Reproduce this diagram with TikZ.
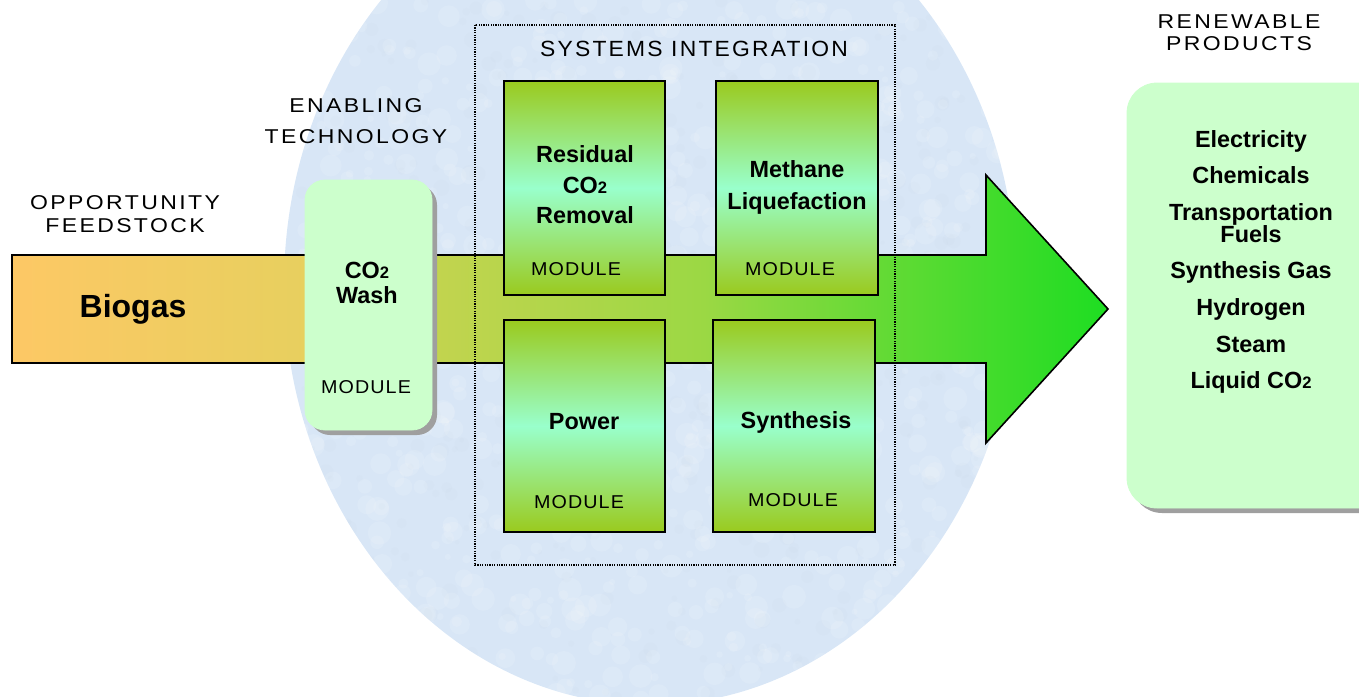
\documentclass[tikz,border=0pt]{standalone}
\usepackage{fontspec}
\setmainfont{Liberation Sans}
\newfontfamily\spacedfont[LetterSpace=12, FakeStretch=1.15]{Liberation Sans}
\newfontfamily\widefont[LetterSpace=10, FakeStretch=1.04]{Liberation Sans}
\newfontfamily\modfont[LetterSpace=6, FakeStretch=1.06]{Liberation Sans}
\usetikzlibrary{shapes,calc}
\definecolor{skyblue}{RGB}{216,230,246}
\definecolor{modgreen}{RGB}{154,202,30}
\definecolor{modmint}{RGB}{153,255,204}
\definecolor{palegreen}{RGB}{204,255,204}
\definecolor{feedorange}{RGB}{253,200,101}
\definecolor{feedgold}{RGB}{230,208,94}
\definecolor{flowolive}{RGB}{214,210,84}
\definecolor{flowgreen}{RGB}{30,221,34}
\newcommand{\cotwo}{CO{\fontsize{8.3}{8}\selectfont 2}}

\begin{document}
\begin{tikzpicture}[x=0.5pt, y=-0.5pt,
    module/.style={draw, line width=1pt, top color=modgreen, bottom color=modgreen, middle color=modmint},
    capslabel/.style={font=\spacedfont\fontsize{10}{11}\selectfont, anchor=base, inner sep=0pt},
    modlabel/.style={font=\modfont\fontsize{9.3}{10}\selectfont, anchor=base, inner sep=0pt},
    boldlabel/.style={font=\bfseries\fontsize{11.7}{11.7}\selectfont, anchor=base, inner sep=0pt, align=center}]
                \clip (0,0) rectangle (1359,696);
                \fill[skyblue] (650,285) ellipse [x radius=366, y radius=420];
                % mottled background
                \begin{scope}
                    \clip (650,285) ellipse [x radius=366, y radius=420];
                    \pgfmathsetseed{7}
                    \foreach \i in {1,...,900}
                        \fill[white, opacity=0.12] (290+rnd*720,rnd*700) circle [radius=3+9*rnd];
                    \foreach \i in {1,...,500}
                        \fill[skyblue!80!gray, opacity=0.08] (290+rnd*720,rnd*700) circle [radius=2+6*rnd];
                \end{scope}
                % flow
                \draw[line width=0.8pt, left color=flowolive, right color=flowgreen, middle color={rgb,255:red,155;green,216;blue,68}]
                    (300,255) -- (986,255) -- (986,175) -- (1108,309) -- (986,443) -- (986,363) -- (300,363) -- cycle;
                \draw[line width=1pt, left color=feedorange, right color=feedgold] (12,255) rectangle (320,363);
                \draw[line width=0.6pt, dash pattern=on 0.6pt off 0.6pt] (475,25) rectangle (895,565);
                % modules
                \path[module] (504,81) rectangle (665,295);
                \path[module] (716,81) rectangle (878,295);
                \path[module] (504,320) rectangle (665,532);
                \path[module] (713,320) rectangle (875,532);
                % rounded boxes
                \fill[gray!75, rounded corners=10pt] (310,185) rectangle (437,435);
                \draw[fill=palegreen, draw=palegreen, rounded corners=10pt] (305,180) rectangle (432,430);
                \fill[gray!75, rounded corners=15pt] (1132,88) rectangle (1400,513);
                \draw[fill=palegreen, draw=palegreen, rounded corners=15pt] (1127,83) rectangle (1395,508);
                % headings
                \node[capslabel] (opp) at (125,209) {OPPORTUNITY};
                \node[capslabel] (feed) at (125,232) {FEEDSTOCK};
                \node[capslabel] (enab) at (356,112) {ENABLING};
                \node[capslabel] (tech) at (356,143) {TECHNOLOGY};
                \node[capslabel, font=\widefont\fontsize{11}{12}\selectfont] (sysint) at (694,56) {SYSTEMS INTEGRATION};
                \node[capslabel] (renew) at (1239,28) {RENEWABLE};
                \node[capslabel] (prod) at (1239,50) {PRODUCTS};
                % box texts
                \node[boldlabel, font=\bfseries\fontsize{16}{16}\selectfont] (biogas) at (133,317) {Biogas};
                \node[boldlabel] (wash1) at (367,278) {\cotwo};
                \node[boldlabel] (wash2) at (367,303) {Wash};
                \node[modlabel] (washmod) at (366,393) {MODULE};
                \node[boldlabel] (resid1) at (585,162) {Residual};
                \node[boldlabel] (resid2) at (585,193) {\cotwo};
                \node[boldlabel] (resid3) at (585,223) {Removal};
                \node[modlabel] (residmod) at (576,275) {MODULE};
                \node[boldlabel] (meth1) at (797,177) {Methane};
                \node[boldlabel] (meth2) at (797,209) {Liquefaction};
                \node[modlabel] (methmod) at (790,275) {MODULE};
                \node[boldlabel] (power) at (584,429) {Power};
                \node[modlabel] (powermod) at (579,508) {MODULE};
                \node[boldlabel] (synth) at (796,428) {Synthesis};
                \node[modlabel] (synthmod) at (793,506) {MODULE};
                % products
                \foreach \y/\t in {147/Electricity, 183/Chemicals, 220/Transportation, 242/Fuels, 278/Synthesis Gas, 315/Hydrogen, 352/Steam, 388/Liquid \cotwo}
                    \node[boldlabel] at (1251,\y) {\t};
            \end{tikzpicture}
\end{document}
